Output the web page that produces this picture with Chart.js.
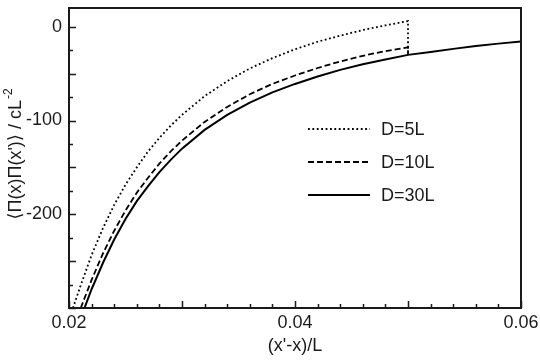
<!DOCTYPE html>
<html>
<head>
<meta charset="utf-8">
<script src="https://cdn.jsdelivr.net/npm/chart.js@4.4.1/dist/chart.umd.min.js"></script>
<style>
  html, body { margin: 0; padding: 0; background: #fff; }
  #wrap { width: 540px; height: 363px; }
</style>
</head>
<body>
<div id="wrap"><canvas id="corrChart"></canvas></div>
<script>
// values
const seriesLabels = ['D=5L', 'D=10L', 'D=30L'];

const x5 = [0.02035, 0.021, 0.022, 0.023, 0.024, 0.025, 0.026, 0.027, 0.028, 0.029, 0.030, 0.032, 0.034, 0.036, 0.038, 0.040, 0.042, 0.044, 0.046, 0.048, 0.050, 0.050];
const y5 = [-300, -277, -243.5, -215, -190, -168.5, -150, -133, -118.5, -105.5, -94, -74, -58, -44.5, -33.5, -24, -16, -9.5, -3.5, 1.5, 6, -30];

const x10 = [0.02104, 0.022, 0.023, 0.024, 0.025, 0.026, 0.027, 0.028, 0.029, 0.030, 0.032, 0.034, 0.036, 0.038, 0.040, 0.042, 0.044, 0.046, 0.048, 0.050, 0.050];
const y10 = [-300, -270, -242, -217.5, -196, -177, -161, -146, -133, -121.5, -101.5, -85.5, -72, -61, -52, -44, -37, -31, -26, -22, -30];

const x30 = [0.02137, 0.022, 0.023, 0.024, 0.025, 0.026, 0.027, 0.028, 0.029, 0.030, 0.032, 0.034, 0.036, 0.038, 0.040, 0.042, 0.044, 0.046, 0.048, 0.050, 0.052, 0.054, 0.056, 0.058, 0.060];
const y30 = [-300, -280, -252, -227, -205, -186, -170, -155, -142, -130, -110, -94, -81, -70, -61, -53, -46, -40, -35, -30, -27, -23.6, -20.6, -18, -15.6];

const xTickLabels = [0.02, 0.04, 0.06];
const yTickLabels = [0, -100, -200];

const fontName = '"Liberation Sans", Arial, "DejaVu Sans", sans-serif';
const ink = '#1a1a1a';

const toPoints = function (xs, ys) {
    let pts = [];
    for (var i = 0; i < xs.length; i++) {
        pts.push({ x: xs[i], y: ys[i] });
    }
    return pts;
};

// frame plus inward tick marks, placed with the chart's own scales
const frameTicks = {
    id: 'frameTicks',
    afterDraw(chart) {
        const ctx = chart.ctx;
        const a = chart.chartArea;
        const xs = chart.scales.x;
        const ys = chart.scales.y;
        ctx.save();
        ctx.strokeStyle = ink;
        ctx.lineWidth = 1.5;
        xs.ticks.forEach(t => {
            const k = Math.round(t.value * 1000);
            if (k % 2 !== 0) return;
            const len = k % 10 === 0 ? 7 : 4;
            const px = Math.round(xs.getPixelForValue(t.value)) + 0.5;
            ctx.beginPath();
            ctx.moveTo(px, a.bottom);
            ctx.lineTo(px, a.bottom - len);
            ctx.stroke();
        });
        ys.ticks.forEach(t => {
            const v = Math.round(t.value);
            if (v % 25 !== 0) return;
            const len = v % 50 === 0 ? 7 : 4;
            const py = Math.round(ys.getPixelForValue(t.value)) + 0.5;
            ctx.beginPath();
            ctx.moveTo(a.left, py);
            ctx.lineTo(a.left + len, py);
            ctx.stroke();
        });
        ctx.lineWidth = 2;
        ctx.strokeRect(a.left, a.top, a.right - a.left, a.bottom - a.top);
        ctx.restore();
    }
};

// legend drawn inside the plot, plus axis titles
const insideLegend = {
    id: 'insideLegend',
    afterDraw(chart) {
        const ctx = chart.ctx;
        ctx.save();
        ctx.font = '18px ' + fontName;
        ctx.textBaseline = 'middle';
        chart.data.datasets.forEach((ds, i) => {
            const y = 129 + i * 33;
            ctx.strokeStyle = ds.borderColor;
            ctx.lineWidth = ds.borderWidth;
            ctx.setLineDash(ds.borderDash || []);
            ctx.beginPath();
            ctx.moveTo(308, y);
            ctx.lineTo(370, y);
            ctx.stroke();
            ctx.setLineDash([]);
            ctx.fillStyle = ink;
            ctx.textAlign = 'left';
            ctx.fillText(ds.label, 381, y + 1);
        });

        // x title
        ctx.textAlign = 'center';
        ctx.fillText("(x'-x)/L", 295, 346);

        // y title with superscript
        const main = '\u27E8\u03A0(x)\u03A0(x\')\u27E9 / cL';
        const sup = '-2';
        ctx.translate(15, 154);
        ctx.rotate(-Math.PI / 2);
        ctx.font = '18px ' + fontName;
        const w1 = ctx.measureText(main).width;
        ctx.font = '12px ' + fontName;
        const w2 = ctx.measureText(sup).width;
        const start = -(w1 + w2 + 1) / 2;
        ctx.textAlign = 'left';
        ctx.font = '18px ' + fontName;
        ctx.fillText(main, start, 1);
        ctx.font = '12px ' + fontName;
        ctx.fillText(sup, start + w1 + 1, -6);
        ctx.restore();
    }
};

const lineSet = function (label, xs, ys, dash, width) {
    return {
        label: label,
        data: toPoints(xs, ys),
        showLine: true,
        borderColor: '#000',
        borderWidth: width,
        borderDash: dash,
        pointRadius: 0,
        tension: 0,
        fill: false
    };
};

new Chart(document.getElementById('corrChart'), {
    type: 'scatter',
    data: {
        datasets: [
            lineSet(seriesLabels[0], x5, y5, [1.8, 2.6], 1.8),
            lineSet(seriesLabels[1], x10, y10, [6, 3], 1.8),
            lineSet(seriesLabels[2], x30, y30, [], 2)
        ]
    },
    options: {
        responsive: true,
        maintainAspectRatio: false,
        animation: false,
        devicePixelRatio: 1,
        layout: { padding: { top: 8, right: 19, left: 0, bottom: 0 } },
        plugins: {
            legend: { display: false },
            tooltip: { enabled: false }
        },
        scales: {
            x: {
                type: 'linear',
                min: 0.02,
                max: 0.06,
                grid: { display: false, drawTicks: false },
                border: { display: false },
                ticks: {
                    stepSize: 0.002,
                    autoSkip: false,
                    maxRotation: 0,
                    padding: 4,
                    color: ink,
                    font: { family: fontName, size: 18 },
                    callback: function (v) {
                        const k = Math.round(v * 1000);
                        return xTickLabels.some(l => Math.round(l * 1000) === k) ? v.toFixed(2) : '';
                    }
                },
                afterFit: function (scale) {
                    scale.height = 55;
                    scale.paddingLeft = 0;
                    scale.paddingRight = 0;
                }
            },
            y: {
                type: 'linear',
                min: -300,
                max: 20,
                grid: { display: false, drawTicks: false },
                border: { display: false },
                ticks: {
                    stepSize: 25,
                    includeBounds: false,
                    autoSkip: false,
                    padding: 7,
                    color: ink,
                    font: { family: fontName, size: 18 },
                    callback: function (v) {
                        const r = Math.round(v);
                        return yTickLabels.includes(r) ? String(r) : '';
                    }
                },
                afterFit: function (scale) {
                    scale.width = 69;
                    scale.paddingTop = 0;
                    scale.paddingBottom = 0;
                }
            }
        }
    },
    plugins: [frameTicks, insideLegend]
});
</script>
</body>
</html>
